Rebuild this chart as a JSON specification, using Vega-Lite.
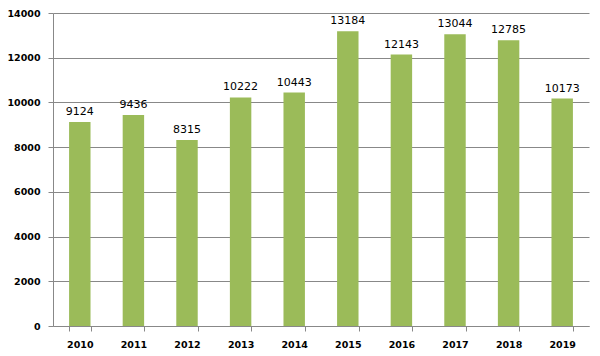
{
  "$schema": "https://vega.github.io/schema/vega-lite/v6.json",
  "width": 536,
  "height": 313,
  "autosize": {"type": "none"},
  "padding": {"left": 53, "top": 13, "right": 11, "bottom": 30},
  "background": "white",
  "data": {"values": [
    {"year": "2010", "value": 9124},
    {"year": "2011", "value": 9436},
    {"year": "2012", "value": 8315},
    {"year": "2013", "value": 10222},
    {"year": "2014", "value": 10443},
    {"year": "2015", "value": 13184},
    {"year": "2016", "value": 12143},
    {"year": "2017", "value": 13044},
    {"year": "2018", "value": 12785},
    {"year": "2019", "value": 10173}
  ]},
  "config": {"view": {"stroke": null}, "font": "DejaVu Sans"},
  "encoding": {
    "x": {"field": "year", "type": "ordinal",
      "scale": {"paddingInner": 0.6, "paddingOuter": 0.3},
      "axis": {"title": null, "labelAngle": 0, "domainColor": "#888888", "tickColor": "#888888", "tickBand": "extent", "tickSize": 5, "labelPadding": 8, "labelFont": "DejaVu Sans", "labelFontSize": 9.5, "labelFontWeight": "bold", "labelColor": "#000000"}},
    "y": {"field": "value", "type": "quantitative",
      "scale": {"domain": [0, 14000], "nice": false},
      "axis": {"title": null, "values": [0, 2000, 4000, 6000, 8000, 10000, 12000, 14000], "format": "d", "gridColor": "#888888", "domainColor": "#888888", "tickColor": "#888888", "tickSize": 5, "labelPadding": 8, "labelFont": "DejaVu Sans", "labelFontSize": 9.5, "labelFontWeight": "bold", "labelColor": "#000000"}}
  },
  "layer": [
    {"mark": {"type": "bar", "color": "#9BBB59"}},
    {"mark": {"type": "text", "dy": -10, "font": "DejaVu Sans", "fontSize": 11, "color": "#000000"},
     "encoding": {"text": {"field": "value", "type": "quantitative", "format": "d"}}}
  ]
}
